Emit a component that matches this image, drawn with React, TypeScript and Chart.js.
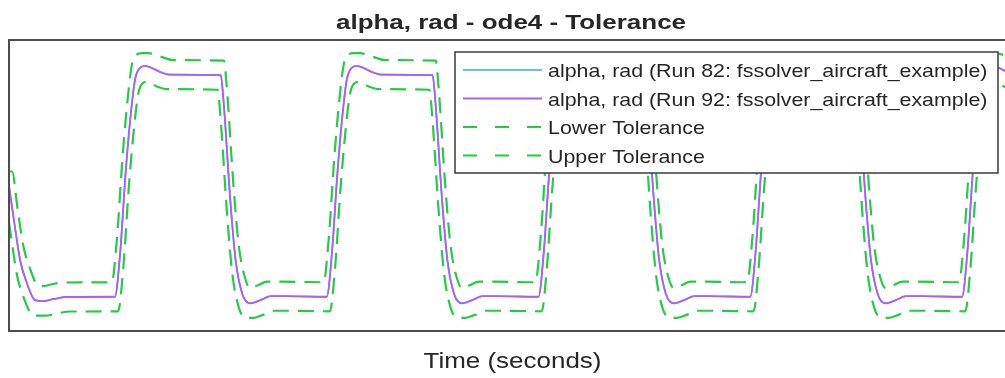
import React, { useEffect, useRef } from "react";
import { Chart, registerables } from "chart.js";

Chart.register(...registerables);

// ---------- text ----------
const TITLE = "alpha, rad - ode4 - Tolerance";
const X_LABEL = "Time (seconds)";
const SERIES_LABELS = [
  "alpha, rad (Run 82: fssolver_aircraft_example)",
  "alpha, rad (Run 92: fssolver_aircraft_example)",
  "Lower Tolerance",
  "Upper Tolerance",
];

// ---------- data (time in s, alpha in rad) ----------
const signalTime = [
  0, 0.1, 0.21, 0.34, 0.49, 0.64, 0.85, 1.09,
  2, 2.1, 2.2, 2.29, 2.38, 2.47, 2.57, 2.7, 2.85, 3.04,
  4, 4.05, 4.18, 4.28, 4.41, 4.56, 4.75, 4.94, 5.22,
  6, 6.1, 6.2, 6.29, 6.38, 6.47, 6.57, 6.7, 6.85, 7.04,
  8, 8.05, 8.18, 8.28, 8.41, 8.56, 8.75, 8.94, 9.22,
  10, 10.1, 10.2, 10.29, 10.38, 10.47, 10.57, 10.7, 10.85, 11.04,
  12, 12.05, 12.18, 12.28, 12.41, 12.56, 12.75, 12.94, 13.22,
  14, 14.1, 14.2, 14.29, 14.38, 14.47, 14.57, 14.7, 14.85, 15.04,
  16, 16.05, 16.18, 16.28, 16.41, 16.56, 16.75, 16.94, 17.22,
  18, 18.1, 18.2, 18.29, 18.38, 18.47, 18.57, 18.7, 18.85, 19.04,
];

const run82Alpha = [
  0, -0.033, -0.067, -0.088, -0.103, -0.104, -0.102, -0.1002,
  -0.1, -0.06, 0.01, 0.06, 0.096, 0.1065, 0.1085, 0.1065, 0.103, 0.1005,
  0.1, 0.078, -0.013, -0.067, -0.098, -0.106, -0.103, -0.0995, -0.0995,
  -0.1, -0.06, 0.01, 0.06, 0.096, 0.1065, 0.1085, 0.1065, 0.103, 0.1005,
  0.1, 0.078, -0.013, -0.067, -0.098, -0.106, -0.103, -0.0995, -0.0995,
  -0.1, -0.06, 0.01, 0.06, 0.096, 0.1065, 0.1085, 0.1065, 0.103, 0.1005,
  0.1, 0.078, -0.013, -0.067, -0.098, -0.106, -0.103, -0.0995, -0.0995,
  -0.1, -0.06, 0.01, 0.06, 0.096, 0.1065, 0.1085, 0.1065, 0.103, 0.1005,
  0.1, 0.078, -0.013, -0.067, -0.098, -0.106, -0.103, -0.0995, -0.0995,
  -0.1, -0.06, 0.01, 0.06, 0.096, 0.1065, 0.1085, 0.1065, 0.103, 0.1005,
];

const run92Alpha = [
  0, -0.033, -0.067, -0.088, -0.103, -0.104, -0.102, -0.1002,
  -0.1, -0.06, 0.01, 0.06, 0.096, 0.1065, 0.1085, 0.1065, 0.103, 0.1005,
  0.1, 0.078, -0.013, -0.067, -0.098, -0.106, -0.103, -0.0995, -0.0995,
  -0.1, -0.06, 0.01, 0.06, 0.096, 0.1065, 0.1085, 0.1065, 0.103, 0.1005,
  0.1, 0.078, -0.013, -0.067, -0.098, -0.106, -0.103, -0.0995, -0.0995,
  -0.1, -0.06, 0.01, 0.06, 0.096, 0.1065, 0.1085, 0.1065, 0.103, 0.1005,
  0.1, 0.078, -0.013, -0.067, -0.098, -0.106, -0.103, -0.0995, -0.0995,
  -0.1, -0.06, 0.01, 0.06, 0.096, 0.1065, 0.1085, 0.1065, 0.103, 0.1005,
  0.1, 0.078, -0.013, -0.067, -0.098, -0.106, -0.103, -0.0995, -0.0995,
  -0.1, -0.06, 0.01, 0.06, 0.096, 0.1065, 0.1085, 0.1065, 0.103, 0.1005,
];

const upperTime = [
  0, 0.06, 0.16, 0.27, 0.4, 0.55, 0.64, 0.79, 1.03,
  1.94, 2.04, 2.14, 2.23, 2.32, 2.41, 2.51, 2.63, 2.76, 2.91, 3.1,
  4.06, 4.11, 4.24, 4.34, 4.47, 4.56, 4.69, 4.88, 5.16,
  5.94, 6.04, 6.14, 6.23, 6.32, 6.41, 6.51, 6.63, 6.76, 6.91, 7.1,
  8.06, 8.11, 8.24, 8.34, 8.47, 8.56, 8.69, 8.88, 9.16,
  9.94, 10.04, 10.14, 10.23, 10.32, 10.41, 10.51, 10.63, 10.76, 10.91, 11.1,
  12.06, 12.11, 12.24, 12.34, 12.47, 12.56, 12.69, 12.88, 13.16,
  13.94, 14.04, 14.14, 14.23, 14.32, 14.41, 14.51, 14.63, 14.76, 14.91, 15.1,
  16.06, 16.11, 16.24, 16.34, 16.47, 16.56, 16.69, 16.88, 17.16,
  17.94, 18.04, 18.14, 18.23, 18.32, 18.41, 18.51, 18.63, 18.76, 18.91, 19.1,
];

const upperTolerance = [
  0.0131, 0.0131, -0.0199, -0.0539, -0.0749, -0.0899, -0.0904, -0.0889, -0.0871,
  -0.0869, -0.0469, 0.0231, 0.0731, 0.1091, 0.1186, 0.12, 0.12, 0.1186, 0.1161, 0.1136,
  0.1131, 0.0911, 0.0001, -0.0539, -0.0849, -0.0924, -0.0899, -0.0864, -0.0864,
  -0.0869, -0.0469, 0.0231, 0.0731, 0.1091, 0.1186, 0.12, 0.12, 0.1186, 0.1161, 0.1136,
  0.1131, 0.0911, 0.0001, -0.0539, -0.0849, -0.0924, -0.0899, -0.0864, -0.0864,
  -0.0869, -0.0469, 0.0231, 0.0731, 0.1091, 0.1186, 0.12, 0.12, 0.1186, 0.1161, 0.1136,
  0.1131, 0.0911, 0.0001, -0.0539, -0.0849, -0.0924, -0.0899, -0.0864, -0.0864,
  -0.0869, -0.0469, 0.0231, 0.0731, 0.1091, 0.1186, 0.12, 0.12, 0.1186, 0.1161, 0.1136,
  0.1131, 0.0911, 0.0001, -0.0539, -0.0849, -0.0924, -0.0899, -0.0864, -0.0864,
  -0.0869, -0.0469, 0.0231, 0.0731, 0.1091, 0.1186, 0.12, 0.12, 0.1186, 0.1161, 0.1136,
];

const lowerTime = [
  0, 0.04, 0.15, 0.28, 0.43, 0.5, 0.7, 0.91, 1.15,
  2.06, 2.16, 2.26, 2.35, 2.44, 2.53, 2.62, 2.79, 2.98,
  3.94, 3.99, 4.12, 4.22, 4.35, 4.5, 4.62, 4.81, 5.0, 5.28,
  6.06, 6.16, 6.26, 6.35, 6.44, 6.53, 6.62, 6.79, 6.98,
  7.94, 7.99, 8.12, 8.22, 8.35, 8.5, 8.62, 8.81, 9.0, 9.28,
  10.06, 10.16, 10.26, 10.35, 10.44, 10.53, 10.62, 10.79, 10.98,
  11.94, 11.99, 12.12, 12.22, 12.35, 12.5, 12.62, 12.81, 13.0, 13.28,
  14.06, 14.16, 14.26, 14.35, 14.44, 14.53, 14.62, 14.79, 14.98,
  15.94, 15.99, 16.12, 16.22, 16.35, 16.5, 16.62, 16.81, 17.0, 17.28,
  18.06, 18.16, 18.26, 18.35, 18.44, 18.53, 18.62, 18.79, 18.98,
];

const lowerTolerance = [
  -0.0331, -0.0461, -0.0801, -0.1011, -0.1161, -0.1171, -0.1171, -0.1151, -0.1133,
  -0.1131, -0.0731, -0.0031, 0.0469, 0.0829, 0.093, 0.094, 0.0899, 0.0874,
  0.0869, 0.0649, -0.0261, -0.0801, -0.1111, -0.1191, -0.1191, -0.1161, -0.1126, -0.1126,
  -0.1131, -0.0731, -0.0031, 0.0469, 0.0829, 0.093, 0.094, 0.0899, 0.0874,
  0.0869, 0.0649, -0.0261, -0.0801, -0.1111, -0.1191, -0.1191, -0.1161, -0.1126, -0.1126,
  -0.1131, -0.0731, -0.0031, 0.0469, 0.0829, 0.093, 0.094, 0.0899, 0.0874,
  0.0869, 0.0649, -0.0261, -0.0801, -0.1111, -0.1191, -0.1191, -0.1161, -0.1126, -0.1126,
  -0.1131, -0.0731, -0.0031, 0.0469, 0.0829, 0.093, 0.094, 0.0899, 0.0874,
  0.0869, 0.0649, -0.0261, -0.0801, -0.1111, -0.1191, -0.1191, -0.1161, -0.1126, -0.1126,
  -0.1131, -0.0731, -0.0031, 0.0469, 0.0829, 0.093, 0.094, 0.0899, 0.0874,
];

const X_MIN = 0;
const X_MAX = 19;
const Y_MIN = -0.1309;
const Y_MAX = 0.1318;

// ---------- style ----------
const FONT_FAMILY = '"Liberation Sans", Arial, Helvetica, sans-serif';
const TEXT_COLOR = "#262626";
const AXIS_COLOR = "#4d4d4d";
const RUN82_COLOR = "#35a6ff";
const RUN92_COLOR = "#ad5cff";
const TOL_COLOR = "#22cc44";
const PLOT_DASH = [16, 9];
const LEGEND_DASH = [14, 18];

const CANVAS_W = 1007;
const CANVAS_H = 370;

function toPoints(xs: number[], ys: number[]) {
  return xs.map((x, i) => ({ x, y: ys[i] }));
}

function stretchedText(
  ctx: CanvasRenderingContext2D,
  text: string,
  x: number,
  y: number,
  font: string,
  sx: number,
  align: CanvasTextAlign
) {
  ctx.save();
  ctx.font = font;
  ctx.fillStyle = TEXT_COLOR;
  ctx.textAlign = align;
  ctx.textBaseline = "alphabetic";
  ctx.translate(x, y);
  ctx.scale(sx, 1);
  ctx.fillText(text, 0, 0);
  ctx.restore();
}

const decorPlugin = {
  id: "matlabDecor",
  afterDraw(chart: any) {
    const ctx: CanvasRenderingContext2D = chart.ctx;
    const a = chart.chartArea;

    // axes box (right edge lies outside the visible area)
    ctx.save();
    ctx.strokeStyle = AXIS_COLOR;
    ctx.lineWidth = 2;
    ctx.beginPath();
    ctx.moveTo(a.right + 4, a.top);
    ctx.lineTo(a.left, a.top);
    ctx.lineTo(a.left, a.bottom);
    ctx.lineTo(a.right + 4, a.bottom);
    ctx.stroke();
    ctx.restore();

    // legend
    const lx = 447;
    const ly = 44;
    const lw = 543;
    const lh = 121;
    ctx.save();
    ctx.fillStyle = "#ffffff";
    ctx.fillRect(lx, ly, lw, lh);
    ctx.strokeStyle = "#3a3a3a";
    ctx.lineWidth = 1.5;
    ctx.strokeRect(lx, ly, lw, lh);
    const datasets = chart.data.datasets;
    for (let i = 0; i < datasets.length; i++) {
      const ds = datasets[i];
      const base = 69 + i * 28.5;
      const lineY = base - 7;
      ctx.save();
      ctx.strokeStyle = ds.borderColor;
      ctx.lineWidth = Math.min(ds.borderWidth, 1.8);
      ctx.setLineDash(ds.borderDash && ds.borderDash.length ? LEGEND_DASH : []);
      ctx.beginPath();
      ctx.moveTo(455, lineY);
      ctx.lineTo(534, lineY);
      ctx.stroke();
      ctx.restore();
      stretchedText(ctx, ds.label, 540, base, `18.5px ${FONT_FAMILY}`, 1.155, "left");
    }
    ctx.restore();

    // title and x label
    stretchedText(ctx, TITLE, 503, 21, `bold 21px ${FONT_FAMILY}`, 1.236, "center");
    stretchedText(ctx, X_LABEL, 504.5, 360, `22px ${FONT_FAMILY}`, 1.18, "center");
  },
};

export default function App() {
  const canvasRef = useRef<HTMLCanvasElement | null>(null);

  useEffect(() => {
    const canvas = canvasRef.current;
    if (!canvas) return;
    const common = {
      pointRadius: 0,
      pointHoverRadius: 0,
      fill: false,
      cubicInterpolationMode: "monotone" as const,
    };
    const chart = new Chart(canvas, {
      type: "line",
      data: {
        datasets: [
          {
            ...common,
            label: SERIES_LABELS[0],
            data: toPoints(signalTime, run82Alpha),
            borderColor: RUN82_COLOR,
            borderWidth: 1.6,
            order: 4,
          },
          {
            ...common,
            label: SERIES_LABELS[1],
            data: toPoints(signalTime, run92Alpha),
            borderColor: RUN92_COLOR,
            borderWidth: 1.8,
            order: 3,
          },
          {
            ...common,
            label: SERIES_LABELS[2],
            data: toPoints(lowerTime, lowerTolerance),
            borderColor: TOL_COLOR,
            borderWidth: 2.2,
            borderDash: PLOT_DASH,
            order: 2,
          },
          {
            ...common,
            label: SERIES_LABELS[3],
            data: toPoints(upperTime, upperTolerance),
            borderColor: TOL_COLOR,
            borderWidth: 2.2,
            borderDash: PLOT_DASH,
            order: 1,
          },
        ],
      },
      options: {
        animation: false,
        responsive: false,
        events: [],
        layout: { padding: { left: 1, top: 32, right: 0, bottom: 47 } },
        plugins: {
          legend: { display: false },
          title: { display: false },
          tooltip: { enabled: false },
        },
        scales: {
          x: { type: "linear", min: X_MIN, max: X_MAX, display: false },
          y: { type: "linear", min: Y_MIN, max: Y_MAX, display: false },
        },
      },
      plugins: [decorPlugin],
    });
    return () => chart.destroy();
  }, []);

  return (
    <div
      style={{
        position: "absolute",
        left: 8,
        top: 8,
        width: 997,
        height: CANVAS_H,
        overflow: "hidden",
        background: "#ffffff",
      }}
    >
      <canvas
        ref={canvasRef}
        width={CANVAS_W}
        height={CANVAS_H}
        style={{ display: "block", width: CANVAS_W, height: CANVAS_H }}
      />
    </div>
  );
}
